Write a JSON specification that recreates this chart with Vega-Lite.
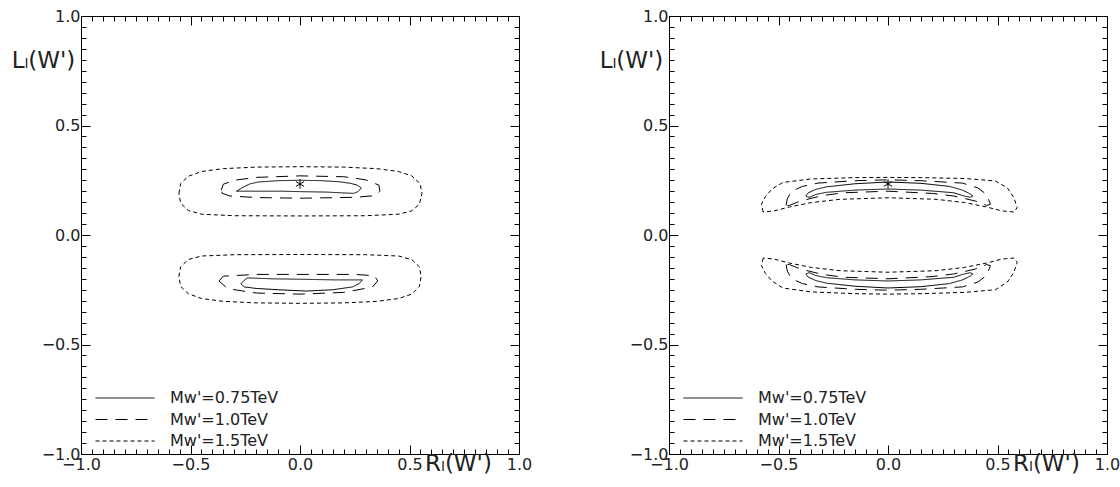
{
  "$schema": "https://vega.github.io/schema/vega-lite/v6.json",
  "background": "white",
  "padding": {"left": 10, "top": 7, "right": 0, "bottom": 0},
  "spacing": 65,
  "datasets": {
    "contours": [
      {"p":"L","m":"0.75","c":"L75u","i":0,"x":-0.29,"y":0.2},
      {"p":"L","m":"0.75","c":"L75u","i":1,"x":-0.26,"y":0.218},
      {"p":"L","m":"0.75","c":"L75u","i":2,"x":-0.23,"y":0.233},
      {"p":"L","m":"0.75","c":"L75u","i":3,"x":-0.19,"y":0.242},
      {"p":"L","m":"0.75","c":"L75u","i":4,"x":-0.1,"y":0.248},
      {"p":"L","m":"0.75","c":"L75u","i":5,"x":0,"y":0.25},
      {"p":"L","m":"0.75","c":"L75u","i":6,"x":0.1,"y":0.248},
      {"p":"L","m":"0.75","c":"L75u","i":7,"x":0.18,"y":0.243},
      {"p":"L","m":"0.75","c":"L75u","i":8,"x":0.23,"y":0.236},
      {"p":"L","m":"0.75","c":"L75u","i":9,"x":0.26,"y":0.228},
      {"p":"L","m":"0.75","c":"L75u","i":10,"x":0.28,"y":0.215},
      {"p":"L","m":"0.75","c":"L75u","i":11,"x":0.265,"y":0.198},
      {"p":"L","m":"0.75","c":"L75u","i":12,"x":0.245,"y":0.19},
      {"p":"L","m":"0.75","c":"L75u","i":13,"x":0.12,"y":0.196},
      {"p":"L","m":"0.75","c":"L75u","i":14,"x":0,"y":0.198},
      {"p":"L","m":"0.75","c":"L75u","i":15,"x":-0.08,"y":0.2},
      {"p":"L","m":"0.75","c":"L75u","i":16,"x":-0.29,"y":0.2},

      {"p":"L","m":"0.75","c":"L75d","i":0,"x":-0.27,"y":-0.223},
      {"p":"L","m":"0.75","c":"L75d","i":1,"x":-0.255,"y":-0.207},
      {"p":"L","m":"0.75","c":"L75d","i":2,"x":-0.24,"y":-0.196},
      {"p":"L","m":"0.75","c":"L75d","i":3,"x":-0.13,"y":-0.2},
      {"p":"L","m":"0.75","c":"L75d","i":4,"x":0,"y":-0.202},
      {"p":"L","m":"0.75","c":"L75d","i":5,"x":0.16,"y":-0.205},
      {"p":"L","m":"0.75","c":"L75d","i":6,"x":0.285,"y":-0.205},
      {"p":"L","m":"0.75","c":"L75d","i":7,"x":0.27,"y":-0.222},
      {"p":"L","m":"0.75","c":"L75d","i":8,"x":0.24,"y":-0.237},
      {"p":"L","m":"0.75","c":"L75d","i":9,"x":0.15,"y":-0.25},
      {"p":"L","m":"0.75","c":"L75d","i":10,"x":0.03,"y":-0.256},
      {"p":"L","m":"0.75","c":"L75d","i":11,"x":-0.1,"y":-0.25},
      {"p":"L","m":"0.75","c":"L75d","i":12,"x":-0.2,"y":-0.244},
      {"p":"L","m":"0.75","c":"L75d","i":13,"x":-0.255,"y":-0.237},
      {"p":"L","m":"0.75","c":"L75d","i":14,"x":-0.27,"y":-0.223},

      {"p":"L","m":"1.0","c":"L10u","i":0,"x":-0.36,"y":0.205},
      {"p":"L","m":"1.0","c":"L10u","i":1,"x":-0.35,"y":0.232},
      {"p":"L","m":"1.0","c":"L10u","i":2,"x":-0.3,"y":0.25},
      {"p":"L","m":"1.0","c":"L10u","i":3,"x":-0.2,"y":0.263},
      {"p":"L","m":"1.0","c":"L10u","i":4,"x":0,"y":0.27},
      {"p":"L","m":"1.0","c":"L10u","i":5,"x":0.2,"y":0.266},
      {"p":"L","m":"1.0","c":"L10u","i":6,"x":0.3,"y":0.252},
      {"p":"L","m":"1.0","c":"L10u","i":7,"x":0.36,"y":0.228},
      {"p":"L","m":"1.0","c":"L10u","i":8,"x":0.365,"y":0.2},
      {"p":"L","m":"1.0","c":"L10u","i":9,"x":0.345,"y":0.18},
      {"p":"L","m":"1.0","c":"L10u","i":10,"x":0.25,"y":0.172},
      {"p":"L","m":"1.0","c":"L10u","i":11,"x":0,"y":0.168},
      {"p":"L","m":"1.0","c":"L10u","i":12,"x":-0.2,"y":0.171},
      {"p":"L","m":"1.0","c":"L10u","i":13,"x":-0.32,"y":0.178},
      {"p":"L","m":"1.0","c":"L10u","i":14,"x":-0.355,"y":0.19},
      {"p":"L","m":"1.0","c":"L10u","i":15,"x":-0.36,"y":0.205},

      {"p":"L","m":"1.0","c":"L10d","i":0,"x":-0.37,"y":-0.21},
      {"p":"L","m":"1.0","c":"L10d","i":1,"x":-0.35,"y":-0.188},
      {"p":"L","m":"1.0","c":"L10d","i":2,"x":-0.2,"y":-0.18},
      {"p":"L","m":"1.0","c":"L10d","i":3,"x":0,"y":-0.18},
      {"p":"L","m":"1.0","c":"L10d","i":4,"x":0.25,"y":-0.18},
      {"p":"L","m":"1.0","c":"L10d","i":5,"x":0.34,"y":-0.186},
      {"p":"L","m":"1.0","c":"L10d","i":6,"x":0.355,"y":-0.21},
      {"p":"L","m":"1.0","c":"L10d","i":7,"x":0.33,"y":-0.238},
      {"p":"L","m":"1.0","c":"L10d","i":8,"x":0.2,"y":-0.262},
      {"p":"L","m":"1.0","c":"L10d","i":9,"x":0,"y":-0.27},
      {"p":"L","m":"1.0","c":"L10d","i":10,"x":-0.2,"y":-0.265},
      {"p":"L","m":"1.0","c":"L10d","i":11,"x":-0.33,"y":-0.245},
      {"p":"L","m":"1.0","c":"L10d","i":12,"x":-0.37,"y":-0.21},

      {"p":"L","m":"1.5","c":"L15u","i":0,"x":-0.553,"y":0.19},
      {"p":"L","m":"1.5","c":"L15u","i":1,"x":-0.545,"y":0.235},
      {"p":"L","m":"1.5","c":"L15u","i":2,"x":-0.51,"y":0.268},
      {"p":"L","m":"1.5","c":"L15u","i":3,"x":-0.45,"y":0.29},
      {"p":"L","m":"1.5","c":"L15u","i":4,"x":-0.35,"y":0.303},
      {"p":"L","m":"1.5","c":"L15u","i":5,"x":-0.2,"y":0.31},
      {"p":"L","m":"1.5","c":"L15u","i":6,"x":0,"y":0.312},
      {"p":"L","m":"1.5","c":"L15u","i":7,"x":0.2,"y":0.31},
      {"p":"L","m":"1.5","c":"L15u","i":8,"x":0.35,"y":0.303},
      {"p":"L","m":"1.5","c":"L15u","i":9,"x":0.45,"y":0.29},
      {"p":"L","m":"1.5","c":"L15u","i":10,"x":0.51,"y":0.27},
      {"p":"L","m":"1.5","c":"L15u","i":11,"x":0.548,"y":0.235},
      {"p":"L","m":"1.5","c":"L15u","i":12,"x":0.557,"y":0.19},
      {"p":"L","m":"1.5","c":"L15u","i":13,"x":0.545,"y":0.14},
      {"p":"L","m":"1.5","c":"L15u","i":14,"x":0.51,"y":0.11},
      {"p":"L","m":"1.5","c":"L15u","i":15,"x":0.45,"y":0.095},
      {"p":"L","m":"1.5","c":"L15u","i":16,"x":0.3,"y":0.088},
      {"p":"L","m":"1.5","c":"L15u","i":17,"x":0,"y":0.087},
      {"p":"L","m":"1.5","c":"L15u","i":18,"x":-0.3,"y":0.088},
      {"p":"L","m":"1.5","c":"L15u","i":19,"x":-0.45,"y":0.095},
      {"p":"L","m":"1.5","c":"L15u","i":20,"x":-0.51,"y":0.112},
      {"p":"L","m":"1.5","c":"L15u","i":21,"x":-0.545,"y":0.145},
      {"p":"L","m":"1.5","c":"L15u","i":22,"x":-0.553,"y":0.19},

      {"p":"L","m":"1.5","c":"L15d","i":0,"x":-0.553,"y":-0.19},
      {"p":"L","m":"1.5","c":"L15d","i":1,"x":-0.545,"y":-0.145},
      {"p":"L","m":"1.5","c":"L15d","i":2,"x":-0.51,"y":-0.112},
      {"p":"L","m":"1.5","c":"L15d","i":3,"x":-0.45,"y":-0.096},
      {"p":"L","m":"1.5","c":"L15d","i":4,"x":-0.3,"y":-0.09},
      {"p":"L","m":"1.5","c":"L15d","i":5,"x":0,"y":-0.089},
      {"p":"L","m":"1.5","c":"L15d","i":6,"x":0.3,"y":-0.09},
      {"p":"L","m":"1.5","c":"L15d","i":7,"x":0.45,"y":-0.096},
      {"p":"L","m":"1.5","c":"L15d","i":8,"x":0.51,"y":-0.112},
      {"p":"L","m":"1.5","c":"L15d","i":9,"x":0.545,"y":-0.145},
      {"p":"L","m":"1.5","c":"L15d","i":10,"x":0.553,"y":-0.19},
      {"p":"L","m":"1.5","c":"L15d","i":11,"x":0.545,"y":-0.235},
      {"p":"L","m":"1.5","c":"L15d","i":12,"x":0.51,"y":-0.27},
      {"p":"L","m":"1.5","c":"L15d","i":13,"x":0.45,"y":-0.29},
      {"p":"L","m":"1.5","c":"L15d","i":14,"x":0.35,"y":-0.303},
      {"p":"L","m":"1.5","c":"L15d","i":15,"x":0.2,"y":-0.31},
      {"p":"L","m":"1.5","c":"L15d","i":16,"x":0,"y":-0.312},
      {"p":"L","m":"1.5","c":"L15d","i":17,"x":-0.2,"y":-0.31},
      {"p":"L","m":"1.5","c":"L15d","i":18,"x":-0.35,"y":-0.303},
      {"p":"L","m":"1.5","c":"L15d","i":19,"x":-0.45,"y":-0.29},
      {"p":"L","m":"1.5","c":"L15d","i":20,"x":-0.51,"y":-0.268},
      {"p":"L","m":"1.5","c":"L15d","i":21,"x":-0.545,"y":-0.235},
      {"p":"L","m":"1.5","c":"L15d","i":22,"x":-0.553,"y":-0.19},

      {"p":"R","m":"0.75","c":"R75u","i":0,"x":-0.375,"y":0.178},
      {"p":"R","m":"0.75","c":"R75u","i":1,"x":-0.365,"y":0.192},
      {"p":"R","m":"0.75","c":"R75u","i":2,"x":-0.33,"y":0.208},
      {"p":"R","m":"0.75","c":"R75u","i":3,"x":-0.28,"y":0.22},
      {"p":"R","m":"0.75","c":"R75u","i":4,"x":-0.15,"y":0.234},
      {"p":"R","m":"0.75","c":"R75u","i":5,"x":0,"y":0.242},
      {"p":"R","m":"0.75","c":"R75u","i":6,"x":0.15,"y":0.236},
      {"p":"R","m":"0.75","c":"R75u","i":7,"x":0.28,"y":0.222},
      {"p":"R","m":"0.75","c":"R75u","i":8,"x":0.34,"y":0.205},
      {"p":"R","m":"0.75","c":"R75u","i":9,"x":0.375,"y":0.188},
      {"p":"R","m":"0.75","c":"R75u","i":10,"x":0.388,"y":0.178},
      {"p":"R","m":"0.75","c":"R75u","i":11,"x":0.375,"y":0.172},
      {"p":"R","m":"0.75","c":"R75u","i":12,"x":0.34,"y":0.18},
      {"p":"R","m":"0.75","c":"R75u","i":13,"x":0.3,"y":0.193},
      {"p":"R","m":"0.75","c":"R75u","i":14,"x":0.15,"y":0.205},
      {"p":"R","m":"0.75","c":"R75u","i":15,"x":0,"y":0.21},
      {"p":"R","m":"0.75","c":"R75u","i":16,"x":-0.15,"y":0.205},
      {"p":"R","m":"0.75","c":"R75u","i":17,"x":-0.28,"y":0.195},
      {"p":"R","m":"0.75","c":"R75u","i":18,"x":-0.33,"y":0.185},
      {"p":"R","m":"0.75","c":"R75u","i":19,"x":-0.36,"y":0.172},
      {"p":"R","m":"0.75","c":"R75u","i":20,"x":-0.375,"y":0.178},

      {"p":"R","m":"0.75","c":"R75d","i":0,"x":-0.375,"y":-0.178},
      {"p":"R","m":"0.75","c":"R75d","i":1,"x":-0.365,"y":-0.192},
      {"p":"R","m":"0.75","c":"R75d","i":2,"x":-0.33,"y":-0.208},
      {"p":"R","m":"0.75","c":"R75d","i":3,"x":-0.28,"y":-0.22},
      {"p":"R","m":"0.75","c":"R75d","i":4,"x":-0.15,"y":-0.234},
      {"p":"R","m":"0.75","c":"R75d","i":5,"x":0,"y":-0.242},
      {"p":"R","m":"0.75","c":"R75d","i":6,"x":0.15,"y":-0.236},
      {"p":"R","m":"0.75","c":"R75d","i":7,"x":0.28,"y":-0.222},
      {"p":"R","m":"0.75","c":"R75d","i":8,"x":0.34,"y":-0.205},
      {"p":"R","m":"0.75","c":"R75d","i":9,"x":0.375,"y":-0.188},
      {"p":"R","m":"0.75","c":"R75d","i":10,"x":0.388,"y":-0.178},
      {"p":"R","m":"0.75","c":"R75d","i":11,"x":0.375,"y":-0.172},
      {"p":"R","m":"0.75","c":"R75d","i":12,"x":0.34,"y":-0.18},
      {"p":"R","m":"0.75","c":"R75d","i":13,"x":0.3,"y":-0.193},
      {"p":"R","m":"0.75","c":"R75d","i":14,"x":0.15,"y":-0.205},
      {"p":"R","m":"0.75","c":"R75d","i":15,"x":0,"y":-0.21},
      {"p":"R","m":"0.75","c":"R75d","i":16,"x":-0.15,"y":-0.205},
      {"p":"R","m":"0.75","c":"R75d","i":17,"x":-0.28,"y":-0.195},
      {"p":"R","m":"0.75","c":"R75d","i":18,"x":-0.33,"y":-0.185},
      {"p":"R","m":"0.75","c":"R75d","i":19,"x":-0.36,"y":-0.172},
      {"p":"R","m":"0.75","c":"R75d","i":20,"x":-0.375,"y":-0.178},

      {"p":"R","m":"1.0","c":"R10u","i":0,"x":-0.465,"y":0.135},
      {"p":"R","m":"1.0","c":"R10u","i":1,"x":-0.46,"y":0.165},
      {"p":"R","m":"1.0","c":"R10u","i":2,"x":-0.44,"y":0.2},
      {"p":"R","m":"1.0","c":"R10u","i":3,"x":-0.39,"y":0.222},
      {"p":"R","m":"1.0","c":"R10u","i":4,"x":-0.32,"y":0.237},
      {"p":"R","m":"1.0","c":"R10u","i":5,"x":-0.15,"y":0.248},
      {"p":"R","m":"1.0","c":"R10u","i":6,"x":0,"y":0.252},
      {"p":"R","m":"1.0","c":"R10u","i":7,"x":0.15,"y":0.248},
      {"p":"R","m":"1.0","c":"R10u","i":8,"x":0.34,"y":0.237},
      {"p":"R","m":"1.0","c":"R10u","i":9,"x":0.41,"y":0.215},
      {"p":"R","m":"1.0","c":"R10u","i":10,"x":0.45,"y":0.185},
      {"p":"R","m":"1.0","c":"R10u","i":11,"x":0.468,"y":0.14},
      {"p":"R","m":"1.0","c":"R10u","i":12,"x":0.45,"y":0.135},
      {"p":"R","m":"1.0","c":"R10u","i":13,"x":0.4,"y":0.155},
      {"p":"R","m":"1.0","c":"R10u","i":14,"x":0.3,"y":0.178},
      {"p":"R","m":"1.0","c":"R10u","i":15,"x":0.2,"y":0.19},
      {"p":"R","m":"1.0","c":"R10u","i":16,"x":0,"y":0.2},
      {"p":"R","m":"1.0","c":"R10u","i":17,"x":-0.2,"y":0.193},
      {"p":"R","m":"1.0","c":"R10u","i":18,"x":-0.3,"y":0.18},
      {"p":"R","m":"1.0","c":"R10u","i":19,"x":-0.4,"y":0.155},
      {"p":"R","m":"1.0","c":"R10u","i":20,"x":-0.45,"y":0.135},
      {"p":"R","m":"1.0","c":"R10u","i":21,"x":-0.465,"y":0.135},

      {"p":"R","m":"1.0","c":"R10d","i":0,"x":-0.465,"y":-0.135},
      {"p":"R","m":"1.0","c":"R10d","i":1,"x":-0.46,"y":-0.165},
      {"p":"R","m":"1.0","c":"R10d","i":2,"x":-0.44,"y":-0.2},
      {"p":"R","m":"1.0","c":"R10d","i":3,"x":-0.39,"y":-0.222},
      {"p":"R","m":"1.0","c":"R10d","i":4,"x":-0.32,"y":-0.237},
      {"p":"R","m":"1.0","c":"R10d","i":5,"x":-0.15,"y":-0.248},
      {"p":"R","m":"1.0","c":"R10d","i":6,"x":0,"y":-0.252},
      {"p":"R","m":"1.0","c":"R10d","i":7,"x":0.15,"y":-0.248},
      {"p":"R","m":"1.0","c":"R10d","i":8,"x":0.34,"y":-0.237},
      {"p":"R","m":"1.0","c":"R10d","i":9,"x":0.41,"y":-0.215},
      {"p":"R","m":"1.0","c":"R10d","i":10,"x":0.45,"y":-0.185},
      {"p":"R","m":"1.0","c":"R10d","i":11,"x":0.468,"y":-0.14},
      {"p":"R","m":"1.0","c":"R10d","i":12,"x":0.45,"y":-0.135},
      {"p":"R","m":"1.0","c":"R10d","i":13,"x":0.4,"y":-0.155},
      {"p":"R","m":"1.0","c":"R10d","i":14,"x":0.3,"y":-0.178},
      {"p":"R","m":"1.0","c":"R10d","i":15,"x":0.2,"y":-0.19},
      {"p":"R","m":"1.0","c":"R10d","i":16,"x":0,"y":-0.2},
      {"p":"R","m":"1.0","c":"R10d","i":17,"x":-0.2,"y":-0.193},
      {"p":"R","m":"1.0","c":"R10d","i":18,"x":-0.3,"y":-0.18},
      {"p":"R","m":"1.0","c":"R10d","i":19,"x":-0.4,"y":-0.155},
      {"p":"R","m":"1.0","c":"R10d","i":20,"x":-0.45,"y":-0.135},
      {"p":"R","m":"1.0","c":"R10d","i":21,"x":-0.465,"y":-0.135},

      {"p":"R","m":"1.5","c":"R15u","i":0,"x":-0.57,"y":0.105},
      {"p":"R","m":"1.5","c":"R15u","i":1,"x":-0.578,"y":0.14},
      {"p":"R","m":"1.5","c":"R15u","i":2,"x":-0.56,"y":0.175},
      {"p":"R","m":"1.5","c":"R15u","i":3,"x":-0.53,"y":0.21},
      {"p":"R","m":"1.5","c":"R15u","i":4,"x":-0.48,"y":0.24},
      {"p":"R","m":"1.5","c":"R15u","i":5,"x":-0.35,"y":0.256},
      {"p":"R","m":"1.5","c":"R15u","i":6,"x":-0.15,"y":0.262},
      {"p":"R","m":"1.5","c":"R15u","i":7,"x":0,"y":0.263},
      {"p":"R","m":"1.5","c":"R15u","i":8,"x":0.15,"y":0.262},
      {"p":"R","m":"1.5","c":"R15u","i":9,"x":0.35,"y":0.258},
      {"p":"R","m":"1.5","c":"R15u","i":10,"x":0.49,"y":0.247},
      {"p":"R","m":"1.5","c":"R15u","i":11,"x":0.545,"y":0.215},
      {"p":"R","m":"1.5","c":"R15u","i":12,"x":0.575,"y":0.17},
      {"p":"R","m":"1.5","c":"R15u","i":13,"x":0.59,"y":0.125},
      {"p":"R","m":"1.5","c":"R15u","i":14,"x":0.575,"y":0.105},
      {"p":"R","m":"1.5","c":"R15u","i":15,"x":0.52,"y":0.11},
      {"p":"R","m":"1.5","c":"R15u","i":16,"x":0.45,"y":0.128},
      {"p":"R","m":"1.5","c":"R15u","i":17,"x":0.35,"y":0.148},
      {"p":"R","m":"1.5","c":"R15u","i":18,"x":0.22,"y":0.163},
      {"p":"R","m":"1.5","c":"R15u","i":19,"x":0,"y":0.17},
      {"p":"R","m":"1.5","c":"R15u","i":20,"x":-0.22,"y":0.163},
      {"p":"R","m":"1.5","c":"R15u","i":21,"x":-0.35,"y":0.148},
      {"p":"R","m":"1.5","c":"R15u","i":22,"x":-0.45,"y":0.128},
      {"p":"R","m":"1.5","c":"R15u","i":23,"x":-0.52,"y":0.11},
      {"p":"R","m":"1.5","c":"R15u","i":24,"x":-0.57,"y":0.105},

      {"p":"R","m":"1.5","c":"R15d","i":0,"x":-0.57,"y":-0.105},
      {"p":"R","m":"1.5","c":"R15d","i":1,"x":-0.578,"y":-0.14},
      {"p":"R","m":"1.5","c":"R15d","i":2,"x":-0.56,"y":-0.175},
      {"p":"R","m":"1.5","c":"R15d","i":3,"x":-0.53,"y":-0.21},
      {"p":"R","m":"1.5","c":"R15d","i":4,"x":-0.48,"y":-0.242},
      {"p":"R","m":"1.5","c":"R15d","i":5,"x":-0.35,"y":-0.26},
      {"p":"R","m":"1.5","c":"R15d","i":6,"x":-0.15,"y":-0.268},
      {"p":"R","m":"1.5","c":"R15d","i":7,"x":0,"y":-0.27},
      {"p":"R","m":"1.5","c":"R15d","i":8,"x":0.15,"y":-0.268},
      {"p":"R","m":"1.5","c":"R15d","i":9,"x":0.35,"y":-0.262},
      {"p":"R","m":"1.5","c":"R15d","i":10,"x":0.49,"y":-0.25},
      {"p":"R","m":"1.5","c":"R15d","i":11,"x":0.545,"y":-0.215},
      {"p":"R","m":"1.5","c":"R15d","i":12,"x":0.575,"y":-0.17},
      {"p":"R","m":"1.5","c":"R15d","i":13,"x":0.59,"y":-0.125},
      {"p":"R","m":"1.5","c":"R15d","i":14,"x":0.575,"y":-0.105},
      {"p":"R","m":"1.5","c":"R15d","i":15,"x":0.52,"y":-0.11},
      {"p":"R","m":"1.5","c":"R15d","i":16,"x":0.45,"y":-0.128},
      {"p":"R","m":"1.5","c":"R15d","i":17,"x":0.35,"y":-0.148},
      {"p":"R","m":"1.5","c":"R15d","i":18,"x":0.22,"y":-0.163},
      {"p":"R","m":"1.5","c":"R15d","i":19,"x":0,"y":-0.17},
      {"p":"R","m":"1.5","c":"R15d","i":20,"x":-0.22,"y":-0.163},
      {"p":"R","m":"1.5","c":"R15d","i":21,"x":-0.35,"y":-0.148},
      {"p":"R","m":"1.5","c":"R15d","i":22,"x":-0.45,"y":-0.128},
      {"p":"R","m":"1.5","c":"R15d","i":23,"x":-0.52,"y":-0.11},
      {"p":"R","m":"1.5","c":"R15d","i":24,"x":-0.57,"y":-0.105}
    ],
    "star": [{"x": 0, "y": 0.233}]
  },
  "hconcat": [
    {
      "width": 438, "height": 438,
      "layer": [
        {
          "data": {"name": "contours"},
          "transform": [{"filter": "datum.p === 'L'"}],
          "mark": {"type": "line", "color": "black", "strokeWidth": 1},
          "encoding": {
            "x": {"field": "x", "type": "quantitative", "scale": {"domain": [-1, 1], "nice": false, "zero": false},
              "axis": {"orient": "bottom", "labelPadding": 11, "values": [-1,-0.95,-0.9,-0.85,-0.8,-0.75,-0.7,-0.65,-0.6,-0.55,-0.5,-0.45,-0.4,-0.35,-0.3,-0.25,-0.2,-0.15,-0.1,-0.05,0,0.05,0.1,0.15,0.2,0.25,0.3,0.35,0.4,0.45,0.5,0.55,0.6,0.65,0.7,0.75,0.8,0.85,0.9,0.95,1],
                "title": "Rₗ(W')", "titleX": 377, "titleY": 9, "titleAlign": "center", "titleBaseline": "middle"}},
            "y": {"field": "y", "type": "quantitative", "scale": {"domain": [-1, 1], "nice": false, "zero": false},
              "axis": {"orient": "left", "values": [-1,-0.95,-0.9,-0.85,-0.8,-0.75,-0.7,-0.65,-0.6,-0.55,-0.5,-0.45,-0.4,-0.35,-0.3,-0.25,-0.2,-0.15,-0.1,-0.05,0,0.05,0.1,0.15,0.2,0.25,0.3,0.35,0.4,0.45,0.5,0.55,0.6,0.65,0.7,0.75,0.8,0.85,0.9,0.95,1],
                "title": "Lₗ(W')", "titleAngle": 0, "titleX": -38, "titleY": 44, "titleAlign": "center", "titleBaseline": "middle"}},
            "order": {"field": "i", "type": "quantitative"},
            "detail": {"field": "c", "type": "nominal"},
            "strokeDash": {"field": "m", "type": "nominal", "scale": {"domain": ["0.75", "1.0", "1.5"], "range": [[1, 0], [12, 8], [4, 3]]},
              "legend": {"orient": "none", "legendX": 14, "legendY": 374, "labelExpr": "\"Mᴡ'=\" + datum.label + \"TeV\""}}
          }
        },
        {
          "data": {"name": "star"},
          "mark": {"type": "point", "shape": "M0,-1L0,1M-0.866,-0.5L0.866,0.5M-0.866,0.5L0.866,-0.5", "filled": false, "stroke": "black", "strokeWidth": 1, "size": 90, "opacity": 1},
          "encoding": {
            "x": {"field": "x", "type": "quantitative", "scale": {"domain": [-1, 1], "nice": false, "zero": false},
              "axis": {"orient": "top", "labels": false, "title": null, "values": [-1,-0.95,-0.9,-0.85,-0.8,-0.75,-0.7,-0.65,-0.6,-0.55,-0.5,-0.45,-0.4,-0.35,-0.3,-0.25,-0.2,-0.15,-0.1,-0.05,0,0.05,0.1,0.15,0.2,0.25,0.3,0.35,0.4,0.45,0.5,0.55,0.6,0.65,0.7,0.75,0.8,0.85,0.9,0.95,1]}},
            "y": {"field": "y", "type": "quantitative", "scale": {"domain": [-1, 1], "nice": false, "zero": false},
              "axis": {"orient": "right", "labels": false, "title": null, "values": [-1,-0.95,-0.9,-0.85,-0.8,-0.75,-0.7,-0.65,-0.6,-0.55,-0.5,-0.45,-0.4,-0.35,-0.3,-0.25,-0.2,-0.15,-0.1,-0.05,0,0.05,0.1,0.15,0.2,0.25,0.3,0.35,0.4,0.45,0.5,0.55,0.6,0.65,0.7,0.75,0.8,0.85,0.9,0.95,1]}}
          }
        }
      ],
      "resolve": {"axis": {"x": "independent", "y": "independent"}}
    },
    {
      "width": 438, "height": 438,
      "layer": [
        {
          "data": {"name": "contours"},
          "transform": [{"filter": "datum.p === 'R'"}],
          "mark": {"type": "line", "color": "black", "strokeWidth": 1},
          "encoding": {
            "x": {"field": "x", "type": "quantitative", "scale": {"domain": [-1, 1], "nice": false, "zero": false},
              "axis": {"orient": "bottom", "labelPadding": 11, "values": [-1,-0.95,-0.9,-0.85,-0.8,-0.75,-0.7,-0.65,-0.6,-0.55,-0.5,-0.45,-0.4,-0.35,-0.3,-0.25,-0.2,-0.15,-0.1,-0.05,0,0.05,0.1,0.15,0.2,0.25,0.3,0.35,0.4,0.45,0.5,0.55,0.6,0.65,0.7,0.75,0.8,0.85,0.9,0.95,1],
                "title": "Rₗ(W')", "titleX": 377, "titleY": 9, "titleAlign": "center", "titleBaseline": "middle"}},
            "y": {"field": "y", "type": "quantitative", "scale": {"domain": [-1, 1], "nice": false, "zero": false},
              "axis": {"orient": "left", "values": [-1,-0.95,-0.9,-0.85,-0.8,-0.75,-0.7,-0.65,-0.6,-0.55,-0.5,-0.45,-0.4,-0.35,-0.3,-0.25,-0.2,-0.15,-0.1,-0.05,0,0.05,0.1,0.15,0.2,0.25,0.3,0.35,0.4,0.45,0.5,0.55,0.6,0.65,0.7,0.75,0.8,0.85,0.9,0.95,1],
                "title": "Lₗ(W')", "titleAngle": 0, "titleX": -38, "titleY": 44, "titleAlign": "center", "titleBaseline": "middle"}},
            "order": {"field": "i", "type": "quantitative"},
            "detail": {"field": "c", "type": "nominal"},
            "strokeDash": {"field": "m", "type": "nominal", "scale": {"domain": ["0.75", "1.0", "1.5"], "range": [[1, 0], [12, 8], [4, 3]]},
              "legend": {"orient": "none", "legendX": 14, "legendY": 374, "labelExpr": "\"Mᴡ'=\" + datum.label + \"TeV\""}}
          }
        },
        {
          "data": {"name": "star"},
          "mark": {"type": "point", "shape": "M0,-1L0,1M-0.866,-0.5L0.866,0.5M-0.866,0.5L0.866,-0.5", "filled": false, "stroke": "black", "strokeWidth": 1, "size": 90, "opacity": 1},
          "encoding": {
            "x": {"field": "x", "type": "quantitative", "scale": {"domain": [-1, 1], "nice": false, "zero": false},
              "axis": {"orient": "top", "labels": false, "title": null, "values": [-1,-0.95,-0.9,-0.85,-0.8,-0.75,-0.7,-0.65,-0.6,-0.55,-0.5,-0.45,-0.4,-0.35,-0.3,-0.25,-0.2,-0.15,-0.1,-0.05,0,0.05,0.1,0.15,0.2,0.25,0.3,0.35,0.4,0.45,0.5,0.55,0.6,0.65,0.7,0.75,0.8,0.85,0.9,0.95,1]}},
            "y": {"field": "y", "type": "quantitative", "scale": {"domain": [-1, 1], "nice": false, "zero": false},
              "axis": {"orient": "right", "labels": false, "title": null, "values": [-1,-0.95,-0.9,-0.85,-0.8,-0.75,-0.7,-0.65,-0.6,-0.55,-0.5,-0.45,-0.4,-0.35,-0.3,-0.25,-0.2,-0.15,-0.1,-0.05,0,0.05,0.1,0.15,0.2,0.25,0.3,0.35,0.4,0.45,0.5,0.55,0.6,0.65,0.7,0.75,0.8,0.85,0.9,0.95,1]}}
          }
        }
      ],
      "resolve": {"axis": {"x": "independent", "y": "independent"}, "legend": {"strokeDash": "independent"}}
    }
  ],
  "resolve": {"legend": {"strokeDash": "independent"}},
  "config": {
    "font": "DejaVu Sans",
    "view": {"stroke": "black", "strokeWidth": 1},
    "axis": {
      "domainColor": "black", "domainWidth": 1,
      "tickColor": "black", "tickWidth": 1,
      "tickSize": {"condition": {"test": "abs(datum.value*2 - round(datum.value*2)) < 0.001", "value": -9}, "value": -5},
      "labelExpr": "abs(datum.value*2 - round(datum.value*2)) < 0.001 ? format(datum.value, '.1f') : ''",
      "labelFont": "DejaVu Sans", "labelFontSize": 16, "labelColor": "#222",
      "labelFlush": false, "labelOverlap": false, "labelPadding": 5,
      "grid": false,
      "titleFont": "DejaVu Sans", "titleFontSize": 23, "titleFontWeight": "normal", "titleColor": "#222", "titlePadding": 0
    },
    "axisY": {"labelPadding": 10},
    "legend": {
      "title": null, "symbolType": "stroke", "symbolSize": 3481, "symbolStrokeWidth": 1, "symbolStrokeColor": "black",
      "clipHeight": 16, "rowPadding": 5.5, "labelOffset": 15, "padding": 0,
      "labelFont": "DejaVu Sans", "labelFontSize": 16, "labelColor": "#222"
    }
  }
}
